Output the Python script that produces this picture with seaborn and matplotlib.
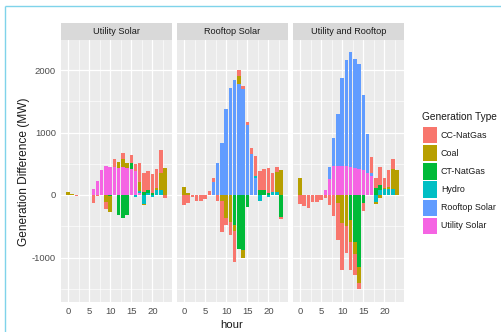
import numpy as np
import pandas as pd
import matplotlib
matplotlib.use("Agg")
import matplotlib.pyplot as plt
from matplotlib.patches import Rectangle
from matplotlib.ticker import FixedLocator
import seaborn as sns

# ---------------- data ----------------
hours = list(range(24))
facets = ["Utility Solar", "Rooftop Solar", "Utility and Rooftop"]
gen_types = ["CC-NatGas", "Coal", "CT-NatGas", "Hydro", "Rooftop Solar", "Utility Solar"]
gen_colors = ["#F8766D", "#B79F00", "#00BA38", "#00BFC4", "#619CFF", "#F564E3"]

# Utility Solar facet
u_cc    = [0, 0, -10, 0, 0, 0, -130, -20, 0, -110, 0, 125, 0, 105, 0, 130, 110, 290, 300, 305, 300, 290, 370, -40]
u_coal  = [50, 15, 0, 0, 0, 0, 0, 0, 0, -110, -250, 0, 90, 120, 90, 0, 0, 150, -25, 0, 0, 40, 270, 430]
u_ct    = [0, 0, 0, 0, 0, 0, 0, 0, 0, 0, -15, 0, -320, -370, -320, 95, 0, 0, 50, 50, 40, 0, 0, 0]
u_hydro = [0, 0, 0, 0, 0, 0, 0, 0, 0, 0, 0, 0, 0, 0, 0, 0, -25, 25, -140, 25, -30, 80, 80, 0]
u_rs    = [0] * 24
u_us    = [0, 0, 0, 0, 0, 0, 90, 230, 400, 465, 455, 455, 440, 455, 430, 410, 380, 40, 0, 0, 0, 0, 0, 0]

# Rooftop Solar facet
r_cc    = [-160, -130, -30, -90, -90, -70, 70, 55, -100, -490, -110, -210, -490, 100, 40, 50, 90, 330, 300, 340, 390, 300, 80, -30]
r_coal  = [130, 35, 0, 0, 0, 0, 0, 0, 0, -100, -370, -430, -100, 120, -130, 0, 0, 0, 0, 0, 0, 0, 320, 400]
r_ct    = [0, 0, 0, 0, 0, 0, 0, 0, 0, 0, 0, 0, -480, -860, -880, -190, 0, 0, 80, 80, 40, 0, 0, -350]
r_hydro = [0, 0, 0, 0, 0, 0, 0, 0, 0, 0, 0, 0, 0, 0, 0, 0, 0, 30, -100, 0, -35, 50, 50, 0]
r_rs    = [0, 0, 0, 0, 0, 0, 0, 210, 510, 840, 1370, 1710, 1840, 1780, 1700, 1120, 660, 270, 0, 0, 0, 0, 0, 0]
r_us    = [0] * 24

# Utility and Rooftop facet
b_cc    = [-150, -170, -210, -110, -110, -80, -50, -160, -330, -600, -750, -420, -450, -330, -100, -130, 0, 250, 150, 290, 150, 270, 160, 0]
b_coal  = [270, 0, 0, 0, 0, 0, 0, 0, 0, -120, -450, -500, -350, -200, -250, 0, 0, 0, -40, -40, 30, 40, 320, 400]
b_ct    = [0, 0, 0, 0, 0, 0, 0, 0, 0, 0, 0, 0, -400, -750, -1150, -130, 0, 0, 120, 80, 0, 0, 0, 0]
b_hydro = [0, 0, 0, 0, 0, 0, 0, 0, 0, 0, 0, 0, 0, 0, 0, 0, 0, 0, -110, 80, 90, 90, 100, 0]
b_rs    = [0, 0, 0, 0, 0, 0, 0, 200, 450, 840, 1400, 1700, 1840, 1740, 1680, 1200, 620, 60, 0, 0, 0, 0, 0, 0]
b_us    = [0, 0, 0, 0, 0, 0, 80, 250, 460, 460, 470, 460, 450, 440, 420, 400, 360, 300, 0, 0, 0, 0, 0, 0]

y_ticks = [-1000, 0, 1000, 2000]
x_ticks = [0, 5, 10, 15, 20]

panel_data = [
    [u_cc, u_coal, u_ct, u_hydro, u_rs, u_us],
    [r_cc, r_coal, r_ct, r_hydro, r_rs, r_us],
    [b_cc, b_coal, b_ct, b_hydro, b_rs, b_us],
]

# ---------------- style ----------------
sns.set_theme(style="white")
plt.rcParams["font.family"] = ["Liberation Sans", "DejaVu Sans"]

W, H = 502, 332
fig = plt.figure(figsize=(W / 100, H / 100), dpi=100)
fig.patch.set_facecolor("white")

color_map = dict(zip(gen_types, gen_colors))
stack_order = ["Utility Solar", "Rooftop Solar", "Hydro", "CT-NatGas", "Coal", "CC-NatGas"]

def px_box(x0, y0, x1, y1):
    return [x0 / W, 1 - y1 / H, (x1 - x0) / W, (y1 - y0) / H]

panel_x = [(61, 172), (177, 288), (293, 404)]
top, bottom = 40, 302

for i, (facet, series) in enumerate(zip(facets, panel_data)):
    x0, x1 = panel_x[i]
    ax = fig.add_axes(px_box(x0, top, x1, bottom))
    df = pd.DataFrame(dict(zip(gen_types, series)))
    df["hour"] = hours
    pos = df[stack_order].clip(lower=0).cumsum(axis=1)
    neg = df[stack_order].clip(upper=0).cumsum(axis=1)
    for cum in (pos, neg):
        for name in reversed(stack_order):
            sns.barplot(x=df["hour"], y=cum[name], native_scale=True, orient="x",
                        width=0.8, color=color_map[name], saturation=1,
                        errorbar=None, linewidth=0, ax=ax)
    ax.set_facecolor("#EBEBEB")
    ax.set_axisbelow(True)
    ax.set_xlim(-1.645, 24.645)
    ax.set_ylim(-1712, 2480)
    ax.xaxis.set_major_locator(FixedLocator(x_ticks))
    ax.xaxis.set_minor_locator(FixedLocator([2.5, 7.5, 12.5, 17.5, 22.5]))
    ax.yaxis.set_major_locator(FixedLocator(y_ticks))
    ax.yaxis.set_minor_locator(FixedLocator([-1500, -500, 500, 1500]))
    ax.grid(True, which="major", color="white", linewidth=0.9)
    ax.grid(True, which="minor", color="white", linewidth=0.45)
    for s in ax.spines.values():
        s.set_visible(False)
    ax.set_xlabel("")
    ax.set_ylabel("")
    ax.tick_params(axis="both", which="major", length=2.5, width=0.6, color="#333333",
                   labelsize=6.8, labelcolor="#4D4D4D", pad=1.2)
    ax.tick_params(axis="both", which="minor", length=0)
    ax.set_xticklabels([str(t) for t in x_ticks])
    if i == 0:
        ax.set_yticklabels([str(t) for t in y_ticks])
    else:
        ax.tick_params(axis="y", which="both", length=0, labelleft=False)

    sax = fig.add_axes(px_box(x0, 23, x1, top))
    sax.set_facecolor("#D9D9D9")
    sax.set_xticks([]); sax.set_yticks([])
    for s in sax.spines.values():
        s.set_visible(False)
    sax.text(0.5, 0.5, facet, ha="center", va="center", fontsize=6.6,
             color="#1A1A1A", transform=sax.transAxes)

# axis titles
fig.text(24 / W, 1 - 172 / H, "Generation Difference (MW)", rotation=90,
         ha="center", va="center", fontsize=8.6, color="#1A1A1A")
fig.text(232 / W, 1 - 324.5 / H, "hour", ha="center", va="center",
         fontsize=8.2, color="#1A1A1A")

# overlay for legend and frame
ov = fig.add_axes([0, 0, 1, 1], zorder=5)
ov.set_xlim(0, W); ov.set_ylim(H, 0)
ov.axis("off")
ov.patch.set_alpha(0)
ov.text(422, 117, "Generation Type", ha="left", va="center", fontsize=7.3, color="#1A1A1A")
for k, (name, col) in enumerate(zip(gen_types, gen_colors)):
    yc = 135 + k * 18.2
    ov.add_patch(Rectangle((423, yc - 8.3), 14, 16.6, facecolor=col, edgecolor="none"))
    ov.text(441, yc, name, ha="left", va="center", fontsize=6.4, color="#1A1A1A")

ov.plot([5.5, 5.5], [5.5, H], color="#7FD3EA", linewidth=1.0, solid_capstyle="butt")
ov.plot([5.5, W], [5.5, 5.5], color="#7FD3EA", linewidth=1.0, solid_capstyle="butt")

fig.savefig("out.png", dpi=100)
